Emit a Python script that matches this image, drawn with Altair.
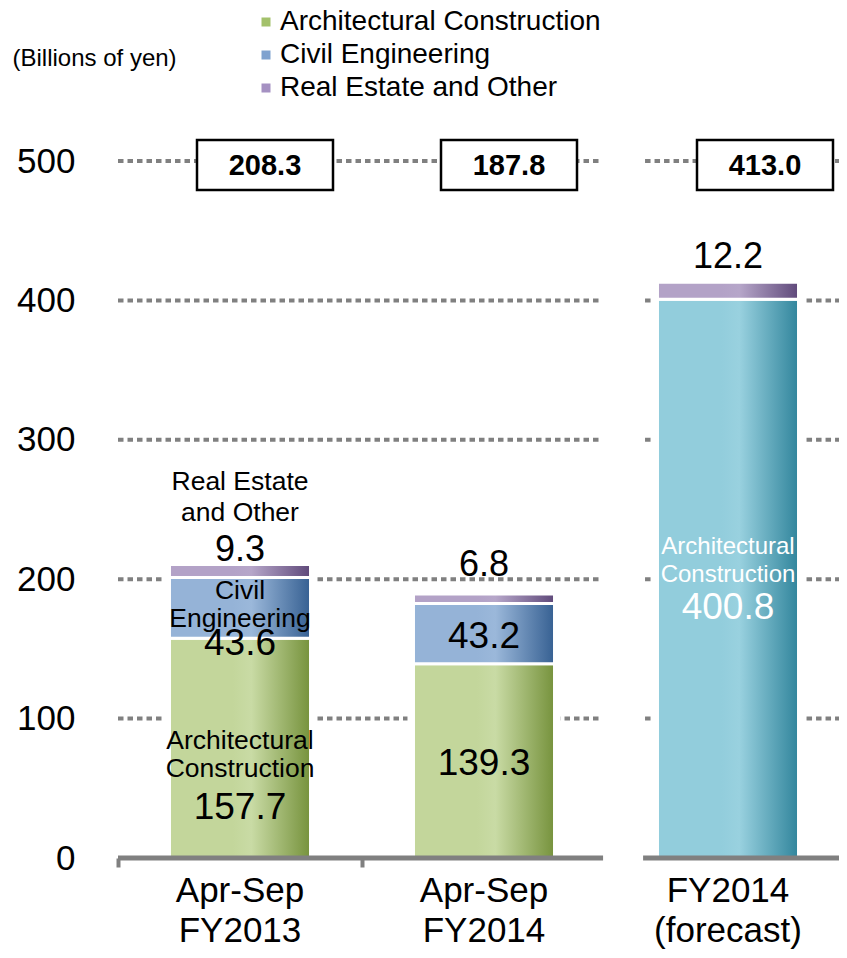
import altair as alt
import pandas as pd

# ---------------- data ----------------
periods = ["Apr-Sep\nFY2013", "Apr-Sep\nFY2014", "FY2014\n(forecast)"]
period_kind = ["actual", "actual", "forecast"]
series = ["Architectural Construction", "Civil Engineering", "Real Estate and Other"]
arch_values = [157.7, 139.3, 400.8]
civil_values = [43.6, 43.2, None]
real_values = [9.3, 6.8, 12.2]
totals = [208.3, 187.8, 413.0]
arch_names = ["Architectural\nConstruction", "", "Architectural\nConstruction"]
civil_names = ["Civil\nEngineering", "", ""]
real_names = ["Real Estate\nand Other", "", ""]
y_ticks = [0, 100, 200, 300, 400, 500]
grid_levels = [100, 200, 300, 400, 500]
unit_label = "(Billions of yen)"

rows = []
for i, p in enumerate(periods):
    for j, (s, vals, names) in enumerate(
        zip(series, [arch_values, civil_values, real_values], [arch_names, civil_names, real_names])
    ):
        if vals[i] is None:
            continue
        rows.append(dict(period=p, kind=period_kind[i], series=s, order=j, value=vals[i], name=names[i]))
seg_df = pd.DataFrame(rows)
tot_df = pd.DataFrame({"period": periods, "kind": period_kind, "total": totals})

# gridline / baseline segments (in category-step units, gap before the forecast)
grid_rows = []
for lv in grid_levels:
    grid_rows.append(dict(level=lv, a=0.0, b=1.975))
    grid_rows.append(dict(level=lv, a=2.16, b=3.0))
grid_df = pd.DataFrame(grid_rows)
base_df = pd.DataFrame({"level": [0, 0], "a": [0.0, 2.152], "b": [1.988, 3.0]})

GRAY = "#808080"
FONT = "Liberation Sans"
YSCALE = alt.Scale(domain=[0, 500], nice=False, zero=True)
QSCALE = alt.Scale(domain=[0, 3], range=[0, 732], nice=False, zero=False)

Y_AXIS = alt.Axis(
    values=y_ticks, title=unit_label, titleAngle=0, titleX=-106, titleY=-103,
    titleAlign="left", titleBaseline="middle", titleFontSize=24, titleFontWeight="normal",
    titleColor="black", titleFont=FONT, labelFontSize=35, labelColor="black", labelFont=FONT,
    labelPadding=43, domain=False, ticks=False, grid=False,
)
BAND_AXIS = alt.Axis(
    orient="bottom", labelExpr="split(datum.label, '\\n')", labelFontSize=35,
    labelLineHeight=40, labelColor="black", labelFont=FONT, labelPadding=15,
    labelAngle=0, labelAlign="center", labelBaseline="top", labelLimit=400,
    domain=False, ticks=False, grid=False, title=None,
)
TICK_AXIS = alt.Axis(
    orient="bottom", values=[0, 1], labels=False, domain=False, ticks=True,
    tickSize=9, tickWidth=4, tickColor=GRAY, grid=False, title=None,
)


def xband():
    return alt.X(
        "period:N",
        scale=alt.Scale(domain=periods, range=[0, 732], paddingInner=0.422, paddingOuter=0.211),
        axis=BAND_AXIS,
        title=None,
    )


def yq(field):
    return alt.Y(field, type="quantitative", scale=YSCALE, axis=Y_AXIS, title=unit_label)


def grad(light, mid, dark):
    return alt.LinearGradient(
        gradient="linear", x1=0, x2=1, y1=0, y2=0,
        stops=[
            alt.GradientStop(offset=0, color=light),
            alt.GradientStop(offset=0.45, color=light),
            alt.GradientStop(offset=0.58, color=mid),
            alt.GradientStop(offset=1, color=dark),
        ],
    )


# ---------------- quantitative-x layers (grid below, baseline on top) ----------------
grid = alt.Chart(grid_df).mark_rule(color=GRAY, strokeWidth=4, strokeDash=[5.5, 4]).encode(
    x=alt.X("a:Q", scale=QSCALE, axis=None, title=None),
    x2="b:Q",
    y=yq("level"),
)

baseline = alt.Chart(base_df).mark_rule(color=GRAY, strokeWidth=5).encode(
    x=alt.X("a:Q", scale=QSCALE, axis=TICK_AXIS, title=None),
    x2="b:Q",
    y=yq("level"),
)

# ---------------- band-x layers ----------------
halo = alt.Chart(tot_df).mark_bar(fill="white", stroke="white", strokeWidth=12).encode(
    x=xband(),
    y=yq("total"),
)

base = (
    alt.Chart(seg_df)
    .transform_stack(stack="value", groupby=["period"], as_=["v0", "v1"],
                     sort=[alt.SortField("order", order="ascending")])
    .transform_calculate(mid="(datum.v0 + datum.v1) / 2")
)

ARCH = "datum.series == 'Architectural Construction'"
CIVIL = "datum.series == 'Civil Engineering'"
REAL = "datum.series == 'Real Estate and Other'"
FORE = "datum.kind == 'forecast'"

styles = [
    (f"{ARCH} && !({FORE})", grad("#C3D69B", "#C9DBA5", "#76923C")),
    (f"{ARCH} && {FORE}", grad("#92CDDC", "#99D1DF", "#31859C")),
    (CIVIL, grad("#95B3D7", "#9BB8DA", "#366092")),
    (REAL, grad("#B3A2C7", "#B6A6C9", "#5F497A")),
]
bar_layers = []
for flt, g in styles:
    bar_layers.append(
        base.transform_filter(flt).mark_bar(fill=g, stroke="white", strokeWidth=3).encode(
            x=xband(),
            y=yq("v0"),
            y2="v1:Q",
        )
    )

text_color = alt.condition(f"{ARCH} && {FORE}", alt.value("white"), alt.value("black"))

inside_value_plain = base.transform_filter(f"!({REAL}) && datum.name == ''").mark_text(
    fontSize=37, font=FONT, baseline="middle", align="center", dy=3
).encode(
    x=xband(), y=yq("mid"),
    text=alt.Text("value:Q", format=".1f"), color=text_color,
)

inside_value_named = base.transform_filter(f"!({REAL}) && datum.name != ''").mark_text(
    fontSize=37, font=FONT, baseline="middle", align="center",
    dy=alt.ExprRef(expr=f"{FORE} ? 29 : (datum.v0 == 0 ? 60 : 36)"),
).encode(
    x=xband(), y=yq("mid"),
    text=alt.Text("value:Q", format=".1f"), color=text_color,
)

inside_name = base.transform_filter(f"!({REAL}) && datum.name != ''").mark_text(
    font=FONT, baseline="middle", align="center", lineBreak="\n", lineHeight=28,
    fontSize=alt.ExprRef(expr=f"{FORE} ? 24 : 26.5"),
    dy=alt.ExprRef(expr=f"{FORE} ? -32 : (datum.v0 == 0 ? -7 : -17)"),
).encode(
    x=xband(), y=yq("mid"),
    text="name:N", color=text_color,
)

above_value = base.transform_filter(REAL).mark_text(
    fontSize=36, font=FONT, baseline="bottom", align="center", color="black",
    dy=alt.ExprRef(expr=f"datum.name != '' ? 5 : ({FORE} ? -6 : -10)"),
).encode(
    x=xband(), y=yq("v1"),
    text=alt.Text("value:Q", format=".1f"),
)

above_name = base.transform_filter(f"{REAL} && datum.name != ''").mark_text(
    fontSize=26.5, font=FONT, baseline="bottom", align="center", dy=-68, lineBreak="\n",
    lineHeight=31, color="black"
).encode(
    x=xband(), y=yq("v1"),
    text="name:N",
)

box_dx = alt.ExprRef(expr=f"{FORE} ? 37 : 25")
boxes = alt.Chart(tot_df).mark_rect(
    width=136, height=50, fill="white", stroke="black", strokeWidth=2.5, xOffset=box_dx, yOffset=4
).encode(
    x=xband(), y=alt.Y(datum=500, scale=YSCALE, axis=Y_AXIS, title=unit_label),
)
box_text = alt.Chart(tot_df).mark_text(
    fontSize=29, font=FONT, fontWeight="bold", baseline="middle", align="center",
    dx=box_dx, dy=5, color="black"
).encode(
    x=xband(), y=alt.Y(datum=500, scale=YSCALE, axis=Y_AXIS, title=unit_label),
    text=alt.Text("total:Q", format=".1f"),
)

legend_layer = alt.Chart(pd.DataFrame({"series": series})).mark_square(opacity=0, size=81).encode(
    color=alt.Color(
        "series:N",
        scale=alt.Scale(domain=series, range=["#A3C16B", "#7FA2CF", "#A591C2"]),
        legend=alt.Legend(
            orient="none", legendX=134, legendY=-153, title=None, labelFontSize=28,
            labelFont=FONT, labelColor="black", symbolType="square", symbolSize=81,
            symbolOpacity=1, symbolStrokeWidth=0, labelOffset=0, rowPadding=5, padding=0,
            labelLimit=500,
        ),
    )
)

b_layer = alt.layer(
    halo, *bar_layers, inside_value_plain, inside_value_named, inside_name,
    above_value, above_name, boxes, box_text, legend_layer,
)

chart = (
    alt.layer(grid, b_layer, baseline)
    .resolve_scale(x="independent")
    .properties(
        width=721, height=697,
        autosize=alt.AutoSizeParams(type="none"),
        padding={"left": 110, "top": 153, "right": 0, "bottom": 92},
    )
    .configure(font=FONT)
    .configure_view(stroke=None)
)

chart.save("out.html", embed_options={"renderer": "svg", "actions": False})
